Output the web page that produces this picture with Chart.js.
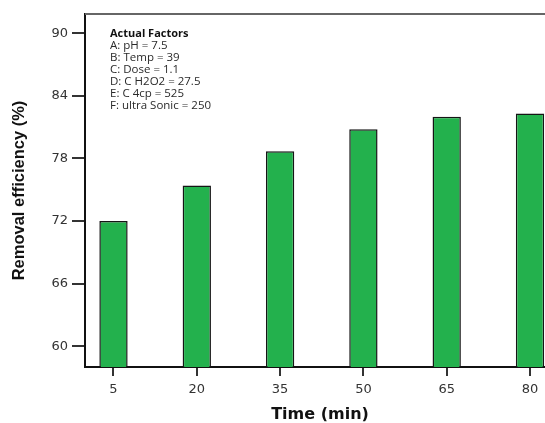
<!DOCTYPE html>
<html lang="en">
<head>
<meta charset="UTF-8">
<title>Removal efficiency x Time</title>
<script src="https://cdn.jsdelivr.net/npm/chart.js"></script>
<style>
    html, body { margin: 0; padding: 0; background: #fff; overflow: hidden; }
    /* a bit wider than the window: the right edge of the plot is cut off like in the original */
    .grafico { width: 560px; height: 423px; }
</style>
</head>
<body>
<div class="grafico"><canvas id="myChart"></canvas></div>
<script>
const tempos = [5, 20, 35, 50, 65, 80];
const remocao = [72.0, 75.4, 78.7, 80.8, 82.0, 82.3];
const ticksY = [60, 66, 72, 78, 84, 90];
const tituloFatores = "Actual Factors";
const fatores = [
    "A: pH = 7.5",
    "B: Temp = 39",
    "C: Dose = 1.1",
    "D: C H2O2 = 27.5",
    "E: C 4cp = 525",
    "F: ultra Sonic = 250"
];

// top/right frame + the "Actual Factors" box
const moldura = {
    id: 'moldura',
    afterDraw(chart) {
        const { ctx, chartArea } = chart;
        ctx.save();
        ctx.strokeStyle = '#666';
        ctx.lineWidth = 2;
        ctx.beginPath();
        ctx.moveTo(chartArea.left, chartArea.top);
        ctx.lineTo(chartArea.right, chartArea.top);
        ctx.lineTo(chartArea.right, chartArea.bottom);
        ctx.stroke();

        const x = chartArea.left + 25;
        let y = chartArea.top + 20;
        ctx.textBaseline = 'middle';
        ctx.fillStyle = '#111';
        ctx.font = 'bold 11px "Open Sans"';
        ctx.fillText(tituloFatores, x, y);
        ctx.fillStyle = '#2a2a2a';
        ctx.font = '11.5px "Open Sans"';
        fatores.forEach(f => {
            y += 12;
            ctx.fillText(f, x, y);
        });
        ctx.restore();
    }
};

const ctx = document.getElementById('myChart');
new Chart(ctx, {
    type: 'bar',
    data: {
        datasets: [{
            label: 'Removal efficiency',
            data: tempos.map((t, i) => ({ x: t, y: remocao[i] })),
            backgroundColor: '#23b14d',
            borderColor: '#151515',
            borderWidth: 1.5,
            barPercentage: 0.34,
            categoryPercentage: 1
        }]
    },
    options: {
        responsive: true,
        maintainAspectRatio: false,
        animation: false,
        layout: { padding: { top: 14, right: 5, left: 0, bottom: 0 } },
        plugins: {
            legend: { display: false },
            tooltip: { enabled: false }
        },
        scales: {
            x: {
                type: 'linear',
                min: -0.13,
                max: 84.5,
                offset: false,
                afterBuildTicks: s => { s.ticks = tempos.map(v => ({ value: v })); },
                afterFit: s => { s.height = 56; },
                grid: { drawOnChartArea: false, offset: false, tickLength: 9, color: '#333', lineWidth: 2 },
                border: { color: '#111', width: 2 },
                ticks: { color: '#333', font: { family: 'DejaVu Sans', size: 13 }, padding: 6, maxRotation: 0 },
                title: {
                    display: true,
                    text: 'Time (min)',
                    color: '#111',
                    font: { family: 'DejaVu Sans', weight: 'bold', size: 16, lineHeight: 1 },
                    padding: { top: 0, bottom: 0 }
                }
            },
            y: {
                type: 'linear',
                min: 58,
                max: 91.85,
                afterBuildTicks: s => { s.ticks = ticksY.map(v => ({ value: v })); },
                afterFit: s => { s.width = 85; },
                grid: { drawOnChartArea: false, tickLength: 13, color: '#333', lineWidth: 2 },
                border: { color: '#111', width: 2 },
                ticks: { color: '#333', font: { family: 'DejaVu Sans', size: 13 }, padding: 4 },
                title: {
                    display: true,
                    text: 'Removal efficiency (%)',
                    color: '#111',
                    font: { family: 'Liberation Sans', weight: 'bold', size: 16.5 },
                    padding: { top: 10, bottom: 0 }
                }
            }
        }
    },
    plugins: [moldura]
});
</script>
</body>
</html>
